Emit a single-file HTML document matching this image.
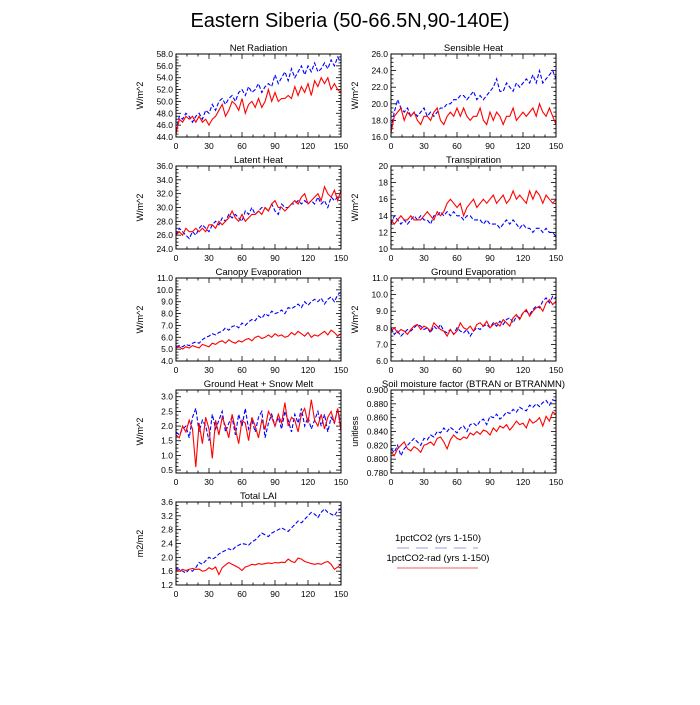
<!DOCTYPE html>
<html><head><meta charset="utf-8"><style>
body{margin:0;background:#fff}
svg text{font-family:"Liberation Sans",sans-serif;fill:#000}
</style></head><body>
<svg id="c" width="700" height="700" viewBox="0 0 700 700" xmlns="http://www.w3.org/2000/svg">
<rect width="700" height="700" fill="#fff"/>
<text x="350" y="27" font-size="20" text-anchor="middle">Eastern Siberia (50-66.5N,90-140E)</text>
<g>
<text x="438" y="541" font-size="9.5" text-anchor="middle">1pctCO2 (yrs 1-150)</text>
<line x1="397" y1="548" x2="478" y2="548" stroke="#aab0ee" stroke-width="1.3" stroke-dasharray="12,7"/>
<text x="438" y="561" font-size="9.5" text-anchor="middle">1pctCO2-rad (yrs 1-150)</text>
<line x1="397" y1="568" x2="478" y2="568" stroke="#f08080" stroke-width="1.3"/>
</g>
</svg>
<script>
const years = Array.from({length:51},(_,i)=>i*3);
const netRadBlue=[45,47.5,47,48,47.5,46.5,47.5,48,47,48.5,48,49.5,48.5,50,50.5,49.5,50.5,51,50,51.5,52,51,52.5,51.5,52,53,51.5,52.5,53,52.5,54.5,53,54,55,53.5,55.5,54,55,56,54.5,56,55,56.5,55,55.5,56.5,55.5,57,56,57.5,56.5];
const netRadRed=[44.5,47,46.5,47.5,47,47.5,46.5,47.5,46.5,47,46,47,47.5,48.5,49.5,47.5,48.5,50,49.5,48.5,50.5,48,49.5,50,49,50.5,49,50,52,50,51.5,50,50.5,50.5,51,50.5,52.5,51,52.5,51.5,53,51,53.5,52.5,54,53,54,52,53,52,51.5];
const sensBlue=[17,19,20.5,19.5,19,19.5,18.5,19,18.5,19,19.5,18.5,19,18.5,19,19.5,19.5,20,20,20.5,20.5,21,21,20.5,21,21.5,20.5,21,20.5,21,21.5,22,23,21.5,21.5,22.5,22,21.5,22.5,22,22.5,23,22.5,23.5,22.5,24,22.5,23,23.5,24,23];
const sensRed=[16.5,18.5,19,19.5,18,19,18.5,19,18,17.5,18.5,18.5,18,19,19.5,18,17.5,18.5,19,18.5,19.5,18.5,19.5,18.5,18,18.5,18.5,19.5,18,17.5,19,18,19,18.5,17.5,18.5,18.5,19.5,18,18.5,19,18.5,19,19.5,18.5,20,19,18.5,19.5,18.5,17.5];
const latBlue=[26,27,26.5,26,25.5,26.5,26,27,27.5,27,26.5,27.5,28,27.5,28.5,28,29,28.5,29,28.5,28,29.5,29,30,29,29.5,30,30,29.5,30.5,29.5,29,30.5,30,30,30.5,30.5,31,30.5,31,30.5,31,30.5,31.5,30.5,31,30,31.5,31,31.5,31.5];
const latRed=[26,26.5,26,27,26.5,26.5,27,26.5,27,26.5,27.5,27.5,27,28,27.5,28,28.5,29.5,28.5,28,29,28,28.5,29,29,29.5,29,30,29.5,30.5,31,30,30,29.5,30,30.5,31,30.5,31.5,32,30.5,31,31.5,32,31,33,32,31.5,32.5,31,32.5];
const trBlue=[13,14,13.5,13,13.5,13,13.5,14,13.5,14,13.5,13.5,13,14,14,14.5,14,14.5,14,14.5,14,14,13.5,14,14,13.5,13.5,13.5,13,13.5,13,13,13,12.5,13,13.5,13,13.5,13,12.5,13,12.5,12.5,12,12.5,12.5,12,12.5,12,12,11.5];
const trRed=[13.5,13,13.5,14,13.5,13.5,14,13.5,13.5,13.5,14,14.5,14,13.5,14.5,14,14.5,15.5,16,15.5,15,15.5,14,15,15.5,16,15,15.5,16,15.5,16,16.5,15.5,16,16.5,15.5,16,17,16,16.5,16,15.5,17,16,17,16.5,15.5,16.5,16,15.5,16];
const canBlue=[5.2,5.3,5.2,5.4,5.3,5.5,5.6,5.5,5.8,6,6.1,6.3,6.2,6.4,6.5,6.8,6.6,6.9,7,6.8,7.2,7,7.3,7.5,7.4,7.8,7.6,8,7.8,8.2,8,8.1,8.3,8,8.5,8.4,8.6,8.8,8.5,9,8.7,9,9.2,9,9.3,8.8,9.2,9.4,9,9.6,9.8];
const canRed=[5.1,5.2,5,5.2,5.1,5.3,5.2,5.1,5.4,5.3,5.2,5.5,5.4,5.6,5.7,5.5,5.8,5.6,5.5,5.7,5.6,5.8,5.9,5.7,6,6.1,5.9,6,6.2,6,6.3,6.1,6.2,6,6.1,6.4,6.2,6.5,6.3,6.1,6.4,6,6.2,6.1,6.3,6.5,6.2,6.6,6.4,6.1,6.3];
const geBlue=[8,7.6,7.8,7.5,7.7,7.9,7.8,8,8.2,8.1,7.9,8,7.7,8.1,7.9,8.2,7.8,7.7,7.9,7.6,8,7.8,7.7,7.9,7.5,7.8,8,7.9,8.1,8.2,8,8.3,8.1,8.4,8.2,8.5,8.6,8.3,8.7,8.6,8.9,9,8.8,9.1,9.3,9.2,9.6,9.8,9.5,9.9,9.8];
const geRed=[7.8,8,7.7,7.9,7.8,7.6,7.9,8.1,8.2,7.9,8.1,8,7.8,8.3,8.1,7.9,7.8,7.5,7.9,7.6,7.8,8.3,8,7.9,8.1,7.8,8.2,8.3,8.1,8.4,8,8.2,8.3,8.1,8.5,8.3,8.1,8.6,8.8,8.5,8.9,9.1,8.7,9,9.2,9.3,9,9.5,9.7,9.4,9.6];
const ghBlue=[1.8,1.7,1.9,2.0,1.6,2.3,2.6,1.8,2.2,2.0,1.5,2.4,1.9,2.2,2.5,1.8,2.1,2.3,1.7,2.4,2.0,2.6,1.9,2.2,1.8,2.3,2.5,1.6,2.1,2.4,2.0,2.3,1.9,2.5,2.2,1.8,2.4,2.1,2.6,2.0,2.3,1.9,2.2,2.5,2.0,2.4,1.8,2.3,2.1,2.6,2.0];
const ghRed=[1.7,1.6,2.0,1.8,2.2,1.9,0.6,2.1,1.4,2.3,1.9,0.9,2.2,1.7,2.3,2.0,1.6,2.4,1.9,1.4,2.2,2.1,1.5,2.3,2.0,1.6,2.2,1.9,2.5,2.3,2.0,2.4,2.1,2.8,2.0,2.3,2.2,1.8,2.4,2.6,2.1,2.9,2.2,2.0,2.4,1.9,2.3,2.5,2.1,2.6,1.8];
const soilBlue=[0.815,0.81,0.82,0.805,0.815,0.82,0.825,0.83,0.825,0.82,0.83,0.828,0.835,0.832,0.84,0.838,0.845,0.84,0.846,0.842,0.838,0.845,0.848,0.84,0.85,0.852,0.848,0.855,0.858,0.85,0.862,0.86,0.865,0.858,0.862,0.868,0.866,0.872,0.868,0.875,0.872,0.87,0.878,0.875,0.88,0.876,0.882,0.885,0.878,0.886,0.884];
const soilRed=[0.81,0.805,0.815,0.82,0.825,0.815,0.812,0.818,0.815,0.81,0.82,0.822,0.825,0.82,0.83,0.832,0.825,0.815,0.828,0.835,0.83,0.828,0.832,0.83,0.838,0.835,0.84,0.836,0.842,0.84,0.835,0.845,0.84,0.848,0.845,0.85,0.842,0.848,0.855,0.85,0.852,0.845,0.858,0.852,0.855,0.86,0.848,0.862,0.855,0.868,0.865];
const laiBlue=[1.68,1.65,1.6,1.55,1.65,1.6,1.7,1.85,1.8,1.9,2.0,1.95,2.0,2.1,2.15,2.2,2.25,2.2,2.3,2.35,2.4,2.38,2.35,2.45,2.5,2.6,2.7,2.65,2.6,2.7,2.75,2.8,2.85,2.8,2.75,2.85,2.95,3.05,3.0,3.1,3.2,3.3,3.25,3.15,3.3,3.4,3.3,3.25,3.2,3.35,3.4];
const laiRed=[1.65,1.6,1.65,1.62,1.65,1.68,1.65,1.66,1.6,1.62,1.7,1.65,1.72,1.5,1.7,1.78,1.85,1.8,1.75,1.7,1.62,1.72,1.75,1.8,1.78,1.82,1.8,1.82,1.84,1.82,1.85,1.84,1.86,1.85,1.95,1.88,1.85,1.98,1.95,1.88,1.85,1.82,1.8,1.82,1.8,1.85,1.88,1.8,1.65,1.72,1.8];
const xTicks=[0,30,60,90,120,150];

const NS='http://www.w3.org/2000/svg';
const svg=document.getElementById('c');
function mk(tag,attrs,parent){const e=document.createElementNS(NS,tag);for(const k in attrs)e.setAttribute(k,attrs[k]);parent.appendChild(e);return e;}
const panels=[
 {id:'net-radiation',t:'Net Radiation',u:'W/m^2',col:0,row:0,ymin:44,ymax:58,step:2,dec:1,b:netRadBlue,r:netRadRed},
 {id:'sensible-heat',t:'Sensible Heat',u:'W/m^2',col:1,row:0,ymin:16,ymax:26,step:2,dec:1,b:sensBlue,r:sensRed},
 {id:'latent-heat',t:'Latent Heat',u:'W/m^2',col:0,row:1,ymin:24,ymax:36,step:2,dec:1,b:latBlue,r:latRed},
 {id:'transpiration',t:'Transpiration',u:'W/m^2',col:1,row:1,ymin:10,ymax:20,step:2,dec:0,b:trBlue,r:trRed},
 {id:'canopy-evaporation',t:'Canopy Evaporation',u:'W/m^2',col:0,row:2,ymin:4,ymax:11,step:1,dec:1,b:canBlue,r:canRed},
 {id:'ground-evaporation',t:'Ground Evaporation',u:'W/m^2',col:1,row:2,ymin:6,ymax:11,step:1,dec:1,b:geBlue,r:geRed},
 {id:'ground-heat',t:'Ground Heat + Snow Melt',u:'W/m^2',col:0,row:3,ymin:0.4,ymax:3.23,step:0.5,dec:1,t0:0.5,b:ghBlue,r:ghRed},
 {id:'soil-moisture',t:'Soil moisture factor (BTRAN or BTRANMN)',u:'unitless',col:1,row:3,ymin:0.78,ymax:0.9,step:0.02,dec:3,b:soilBlue,r:soilRed},
 {id:'total-lai',t:'Total LAI',u:'m2/m2',col:0,row:4,ymin:1.2,ymax:3.6,step:0.4,dec:1,b:laiBlue,r:laiRed}
];
const colX=[176,391], W=165, H=83, rowY=[54,166,278,390,502];
panels.forEach(p=>{
 const x0=colX[p.col], y0=rowY[p.row];
 const g=mk('g',{},svg);
 
 
 const sx=v=>x0+v/150*W, sy=v=>y0+H-(v-p.ymin)/(p.ymax-p.ymin)*H;
 const title=mk('text',{x:x0+W/2,y:y0-3,'font-size':9.5,'text-anchor':'middle'},g);
 title.textContent=p.t;
 
 
 const yl=mk('text',{x:0,y:0,'font-size':9,'text-anchor':'middle',transform:`translate(${x0-33},${y0+H/2}) rotate(-90)`},g);
 yl.textContent=p.u;
 
 
 for(let v=0;v<=150;v+=10){
  const X=sx(v), maj=v%30===0, L=maj?5:2.5;
  mk('line',{x1:X,y1:y0+H,x2:X,y2:y0+H-L,stroke:'#000','stroke-width':0.8},g);
  mk('line',{x1:X,y1:y0,x2:X,y2:y0+L,stroke:'#000','stroke-width':0.8},g);
 }
 xTicks.forEach(v=>{
  const t=mk('text',{x:sx(v),y:y0+H+12,'font-size':8.5,'text-anchor':'middle'},g);
  t.textContent=v;
  
  
 });
 const start=p.t0!==undefined?p.t0:p.ymin;
 const minorStep=p.step/4;
 for(let v=Math.ceil((p.ymin-1e-9)/minorStep)*minorStep;v<=p.ymax+1e-9;v+=minorStep){
  const Y=sy(v);
  const maj=Math.abs((v-start)/p.step-Math.round((v-start)/p.step))<1e-6;
  const L=maj?5:2.5;
  mk('line',{x1:x0,y1:Y,x2:x0+L,y2:Y,stroke:'#000','stroke-width':0.8},g);
  mk('line',{x1:x0+W,y1:Y,x2:x0+W-L,y2:Y,stroke:'#000','stroke-width':0.8},g);
 }
 for(let v=start;v<=p.ymax+1e-9;v+=p.step){
  const t=mk('text',{x:x0-3,y:sy(v)+3,'font-size':8.5,'text-anchor':'end'},g);
  t.textContent=v.toFixed(p.dec);
  
  
 }
 const line=(arr,color,dash,name)=>{
  const d=arr.map((v,i)=>(i?'L':'M')+sx(years[i]).toFixed(1)+','+sy(v).toFixed(1)).join('');
  const a={d:d,fill:'none',stroke:color,'stroke-width':1.1};
  if(dash)a['stroke-dasharray']=dash;
  const e=mk('path',a,g);
  
  
 };
 line(p.b,'#0000ff','4,2',p.id+'-1pctco2-line');
 line(p.r,'#ff0000',null,p.id+'-1pctco2-rad-line');
 const fr=mk('rect',{x:x0,y:y0,width:W,height:H,fill:'none',stroke:'#000','stroke-width':1},g);
 
 
});
</script>
</body></html>
